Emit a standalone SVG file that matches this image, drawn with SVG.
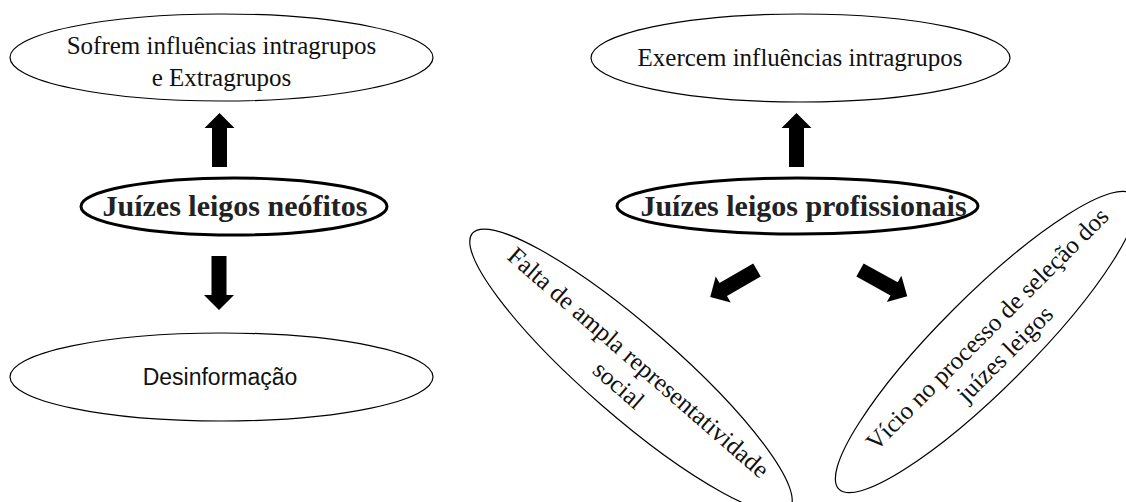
<svg xmlns="http://www.w3.org/2000/svg" width="1126" height="502" viewBox="0 0 1126 502">
<style>
.thin{fill:#fff;stroke:#000;stroke-width:1.2}
.bold{fill:#fff;stroke:#000;stroke-width:3}
.t{font-family:"Liberation Serif","Times New Roman",serif;font-size:25px;fill:#111;text-anchor:middle}
.tb{font-family:"Liberation Serif","Times New Roman",serif;font-size:30px;font-weight:bold;fill:#222;text-anchor:middle}
.ts{font-family:"Liberation Sans",Arial,sans-serif;font-size:23px;fill:#111;text-anchor:middle}
.arr{fill:#000}
</style>
<defs>
<path id="blk" d="M0,-7.5 H39 V-15 L54,0 L39,15 V7.5 H0 Z"/>
</defs>
<rect width="1126" height="502" fill="#fff"/>
<g id="connectors" class="arr">
<use href="#blk" transform="translate(219.5,167) rotate(-90)"/>
<use href="#blk" transform="translate(219,256) rotate(90)"/>
<use href="#blk" transform="translate(796.5,167) rotate(-90)"/>
<use href="#blk" transform="translate(757,270) rotate(150)"/>
<use href="#blk" transform="translate(860,270) rotate(29)"/>
</g>
<g id="n-sofrem">
<ellipse class="thin" cx="221.5" cy="57.5" rx="211.5" ry="43.5"/>
<text class="t" x="221.5" y="54">Sofrem influências intragrupos</text>
<text class="t" x="221.5" y="86">e Extragrupos</text>
</g>
<g id="n-neofitos">
<ellipse class="bold" cx="234" cy="206.5" rx="153" ry="28.5"/>
<text class="tb" x="235" y="216">Juízes leigos neófitos</text>
</g>
<g id="n-desinf">
<ellipse class="thin" cx="221.5" cy="377" rx="211.5" ry="44"/>
<text class="ts" x="220" y="385">Desinformação</text>
</g>
<g id="n-exercem">
<ellipse class="thin" cx="800.5" cy="58" rx="209.5" ry="44"/>
<text class="t" x="800" y="66">Exercem influências intragrupos</text>
</g>
<g id="n-profissionais">
<ellipse class="bold" cx="797.5" cy="206" rx="180.5" ry="28"/>
<text class="tb" x="803.5" y="216">Juízes leigos profissionais</text>
</g>
<g id="n-falta" transform="translate(631,371) rotate(41)">
<ellipse class="thin" cx="0" cy="0" rx="210" ry="45"/>
<text class="t" x="0" y="-3" font-size="24">Falta de ampla representatividade</text>
<text class="t" x="0" y="27" font-size="24">social</text>
</g>
<g id="n-vicio" transform="translate(986,342) rotate(-45)">
<ellipse class="thin" cx="0" cy="0" rx="208" ry="46"/>
<text class="t" x="10" y="0" font-size="24">Vício no processo de seleção dos</text>
<text class="t" x="5" y="30" font-size="24">juízes leigos</text>
</g>
</svg>
